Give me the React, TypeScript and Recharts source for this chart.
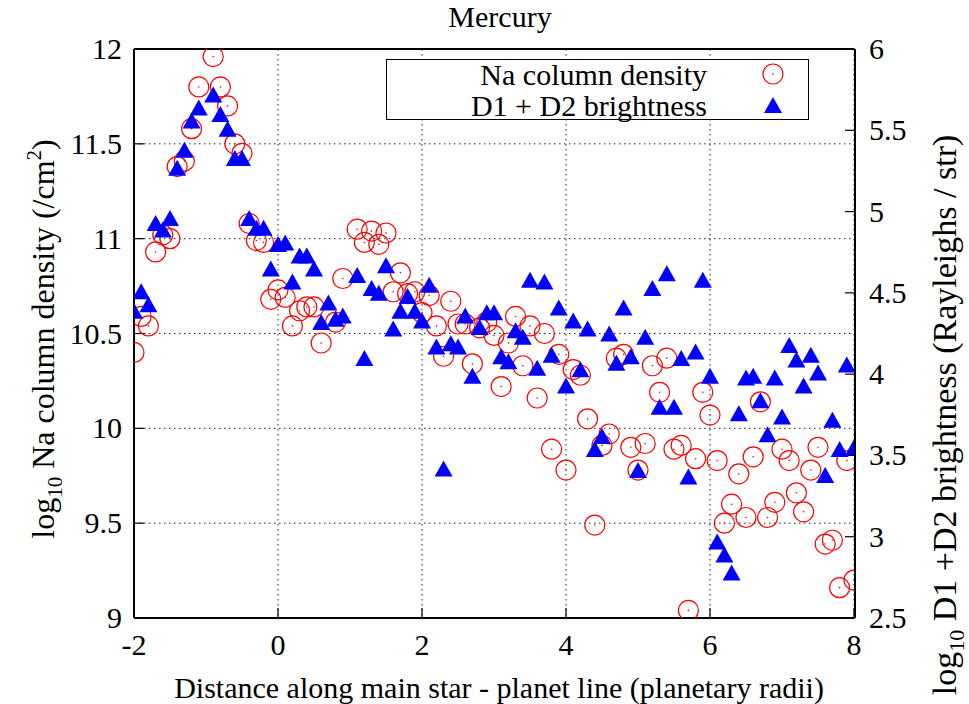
import React from "react";
import { ScatterChart, Scatter, XAxis, YAxis, CartesianGrid, Legend, Label } from "recharts";

// distance along the star-planet line (planetary radii)
const distance = [
  -2.0, -1.9, -1.8, -1.7, -1.6, -1.5, -1.4, -1.3, -1.2, -1.1,
  -0.9, -0.8, -0.7, -0.6, -0.5, -0.4, -0.3, -0.2, -0.1, 0.0,
  0.1, 0.2, 0.3, 0.4, 0.5, 0.6, 0.7, 0.8, 0.9,
  1.1, 1.2, 1.3, 1.4, 1.5, 1.6, 1.7, 1.8, 1.9, 2.0,
  2.1, 2.2, 2.3, 2.4, 2.5, 2.6, 2.7, 2.8, 2.9, 3.0,
  3.1, 3.2, 3.3, 3.4, 3.5, 3.6, 3.7, 3.8, 3.9, 4.0,
  4.1, 4.2, 4.3, 4.4, 4.5, 4.6, 4.7, 4.8, 4.9, 5.0,
  5.1, 5.2, 5.3, 5.4, 5.5, 5.6, 5.7, 5.8, 5.9, 6.0,
  6.1, 6.2, 6.3, 6.4, 6.5, 6.6, 6.7, 6.8, 6.9, 7.0,
  7.1, 7.2, 7.3, 7.4, 7.5, 7.6, 7.7, 7.8, 7.9, 8.0,
];

// log10 Na column density (/cm^2), left axis
const naDensity: (number | null)[] = [
  10.40, 10.59, 10.54, 10.93, 11.02, 11.00, 11.38, 11.41, 11.58, 11.80,
  11.96, 11.80, 11.70, 11.50, 11.45, 11.08, 10.99, 10.98, 10.68, 10.73,
  10.69, 10.54, 10.62, 10.64, 10.64, 10.45, null, 10.56, 10.79,
  11.05, 10.98, 11.04, 10.97, 11.03, 10.72, 10.82, 10.71, 10.72, 10.61,
  10.70, 10.54, 10.38, 10.67, 10.55, 10.55, 10.34, 10.53, 10.56, 10.49,
  10.22, 10.45, 10.59, 10.33, 10.54, 10.16, 10.50, 9.89, 10.39, 9.78,
  10.31, 10.28, 10.05, 9.49, 9.91, 9.97, 10.37, 10.39, 9.90, 9.78,
  9.92, 10.33, 10.19, 10.37, 9.89, 9.91, 9.04, 9.84, 10.19, 10.07,
  9.83, 9.50, 9.60, 9.76, 9.53, 9.85, 10.14, 9.53, 9.61, 9.89,
  9.83, 9.66, 9.56, 9.78, 9.90, 9.39, 9.41, 9.16, 9.83, 9.20,
];

// log10 D1 + D2 brightness (Rayleighs / str), right axis
const brightness = [
  4.39, 4.51, 4.43, 4.93, 4.89, 4.96, 5.27, 5.38, 5.56, 5.64,
  5.72, 5.60, 5.51, 5.33, 5.33, 4.96, 4.90, 4.90, 4.65, 4.80,
  4.81, 4.57, 4.73, 4.73, 4.65, 4.32, 4.44, 4.34, 4.36,
  4.61, 4.10, 4.53, 4.50, 4.67, 4.28, 4.39, 4.48, 4.39, 4.33,
  4.55, 4.17, 3.42, 4.19, 4.17, 4.36, 3.99, 4.29, 4.38, 4.38,
  4.11, 4.08, 4.27, 4.23, 4.58, 4.04, 4.57, 4.12, 4.41, 3.93,
  4.33, 4.03, 4.28, 3.54, 3.62, 4.25, 4.07, 4.41, 4.11, 3.41,
  4.23, 4.53, 3.80, 4.62, 3.80, 4.10, 3.37, 4.14, 4.58, 3.99,
  2.97, 2.89, 2.78, 3.76, 3.98, 3.99, 3.84, 3.63, 3.98, 3.74,
  4.18, 4.09, 3.93, 4.12, 4.01, 3.38, 3.72, 3.54, 4.06, 3.55,
];

const xTicks = [-2, 0, 2, 4, 6, 8];
const leftTicks = [9, 9.5, 10, 10.5, 11, 11.5, 12];
const rightTicks = [2.5, 3, 3.5, 4, 4.5, 5, 5.5, 6];

const FONT = '"Liberation Serif", "Times New Roman", serif';
const FS = 30;

const naPoints = distance
  .map((x, i) => ({ x, y: naDensity[i] }))
  .filter((p) => p.y != null);
const brightPoints = distance.map((x, i) => ({ x, y: brightness[i] }));

function Ring({ cx, cy }: any) {
  return (
    <g>
      <circle cx={cx} cy={cy} r={10} fill="none" stroke="#ff0000" strokeWidth={1.2} />
      <circle cx={cx} cy={cy} r={0.8} fill="#ff0000" />
    </g>
  );
}

function Tri({ cx, cy }: any) {
  return <polygon points={`${cx},${cy - 8} ${cx + 9},${cy + 8} ${cx - 9},${cy + 8}`} fill="#0000ff" />;
}

// serif tick labels drawn by hand so the font is certain
const makeTick = (anchor: "start" | "middle" | "end", dy: number) => (props: any) => (
  <text
    x={props.x}
    y={props.y}
    dy={dy}
    textAnchor={anchor}
    fontFamily={FONT}
    fontSize={FS}
    fill="#000"
  >
    {props.payload.value}
  </text>
);

function KeyBox() {
  const row = (top: number): React.CSSProperties => ({
    position: "absolute",
    right: 101,
    top,
    lineHeight: "30px",
    whiteSpace: "nowrap",
  });
  return (
    <div
      style={{
        position: "relative",
        width: 423,
        height: 61,
        border: "1.5px solid #000",
        boxSizing: "border-box",
        background: "#fff",
        fontFamily: FONT,
        fontSize: FS,
        color: "#000",
      }}
    >
      <div style={row(0)}>Na column density</div>
      <div style={row(31)}>D1 + D2 brightness</div>
      <svg width={40} height={61} style={{ position: "absolute", left: 366, top: -1.5 }}>
        <Ring cx={20} cy={15} />
        <Tri cx={20} cy={46} />
      </svg>
    </div>
  );
}

const axisLine = { stroke: "#000", strokeWidth: 2 };
const tickLine = { stroke: "#000", strokeWidth: 1.2 };

export default function App() {
  return (
    <div style={{ position: "absolute", left: 0, top: 0, width: 969, height: 704, background: "#fff" }}>
      <div
        style={{
          position: "absolute",
          left: 400,
          top: 2,
          width: 200,
          textAlign: "center",
          fontFamily: FONT,
          fontSize: FS,
          lineHeight: "30px",
          color: "#000",
          zIndex: 2,
        }}
      >
        Mercury
      </div>
      <ScatterChart width={969} height={704} margin={{ top: 48, right: 54, bottom: 46, left: 74 }}>
        <CartesianGrid xAxisId="b" yAxisId="l" stroke="#222" strokeDasharray="1.5 3.5" strokeWidth={1} />
        <XAxis
          xAxisId="b"
          type="number"
          dataKey="x"
          domain={[-2, 8]}
          ticks={xTicks}
          allowDataOverflow
          height={40}
          axisLine={axisLine}
          tickLine={tickLine}
          tickSize={-10}
          tickMargin={26}
          tick={makeTick("middle", 21)}
        >
          <Label
            content={() => (
              <text x={499} y={698} textAnchor="middle" fontFamily={FONT} fontSize={FS} fill="#000">
                Distance along main star - planet line (planetary radii)
              </text>
            )}
          />
        </XAxis>
        <XAxis
          xAxisId="t"
          orientation="top"
          type="number"
          domain={[-2, 8]}
          ticks={xTicks}
          allowDataOverflow
          height={1}
          axisLine={axisLine}
          tickLine={tickLine}
          tickSize={-10}
          tick={false}
        />
        <YAxis
          yAxisId="l"
          type="number"
          dataKey="y"
          domain={[9, 12]}
          ticks={leftTicks}
          allowDataOverflow
          width={60}
          axisLine={axisLine}
          tickLine={tickLine}
          tickSize={-10}
          tickMargin={22}
          tick={makeTick("end", 10)}
        >
          <Label
            content={() => (
              <text
                x={54}
                y={339}
                transform="rotate(-90, 54, 339)"
                textAnchor="middle"
                fontFamily={FONT}
                fontSize={32}
                fill="#000"
              >
                log
                <tspan dy={8} fontSize={21}>10</tspan>
                <tspan dy={-8}> Na column density (/cm</tspan>
                <tspan dy={-13} fontSize={21}>2</tspan>
                <tspan dy={13}>)</tspan>
              </text>
            )}
          />
        </YAxis>
        <YAxis
          yAxisId="lm"
          orientation="right"
          type="number"
          domain={[9, 12]}
          ticks={leftTicks}
          allowDataOverflow
          width={1}
          axisLine={false}
          tickLine={tickLine}
          tickSize={-10}
          tick={false}
        />
        <YAxis
          yAxisId="r"
          orientation="right"
          type="number"
          dataKey="y"
          domain={[2.5, 6]}
          ticks={rightTicks}
          allowDataOverflow
          width={60}
          axisLine={axisLine}
          tickLine={tickLine}
          tickSize={-10}
          tickMargin={24}
          tick={makeTick("start", 10)}
        >
          <Label
            content={() => (
              <text
                x={956}
                y={415}
                transform="rotate(-90, 956, 415)"
                textAnchor="middle"
                fontFamily={FONT}
                fontSize={34}
                fill="#000"
              >
                log
                <tspan dy={8} fontSize={22}>10</tspan>
                <tspan dy={-8}> D1 +D2 brightness (Rayleighs / str)</tspan>
              </text>
            )}
          />
        </YAxis>
        <Legend
          verticalAlign="middle"
          layout="horizontal"
          align="center"
          wrapperStyle={{ left: 386, top: 59, width: 423, height: 61 }}
          content={() => <KeyBox />}
        />
        <Scatter
          name="Na column density"
          data={naPoints}
          xAxisId="b"
          yAxisId="l"
          shape={Ring}
          isAnimationActive={false}
        />
        <Scatter
          name="D1 + D2 brightness"
          data={brightPoints}
          xAxisId="b"
          yAxisId="r"
          shape={Tri}
          isAnimationActive={false}
        />
      </ScatterChart>
    </div>
  );
}
